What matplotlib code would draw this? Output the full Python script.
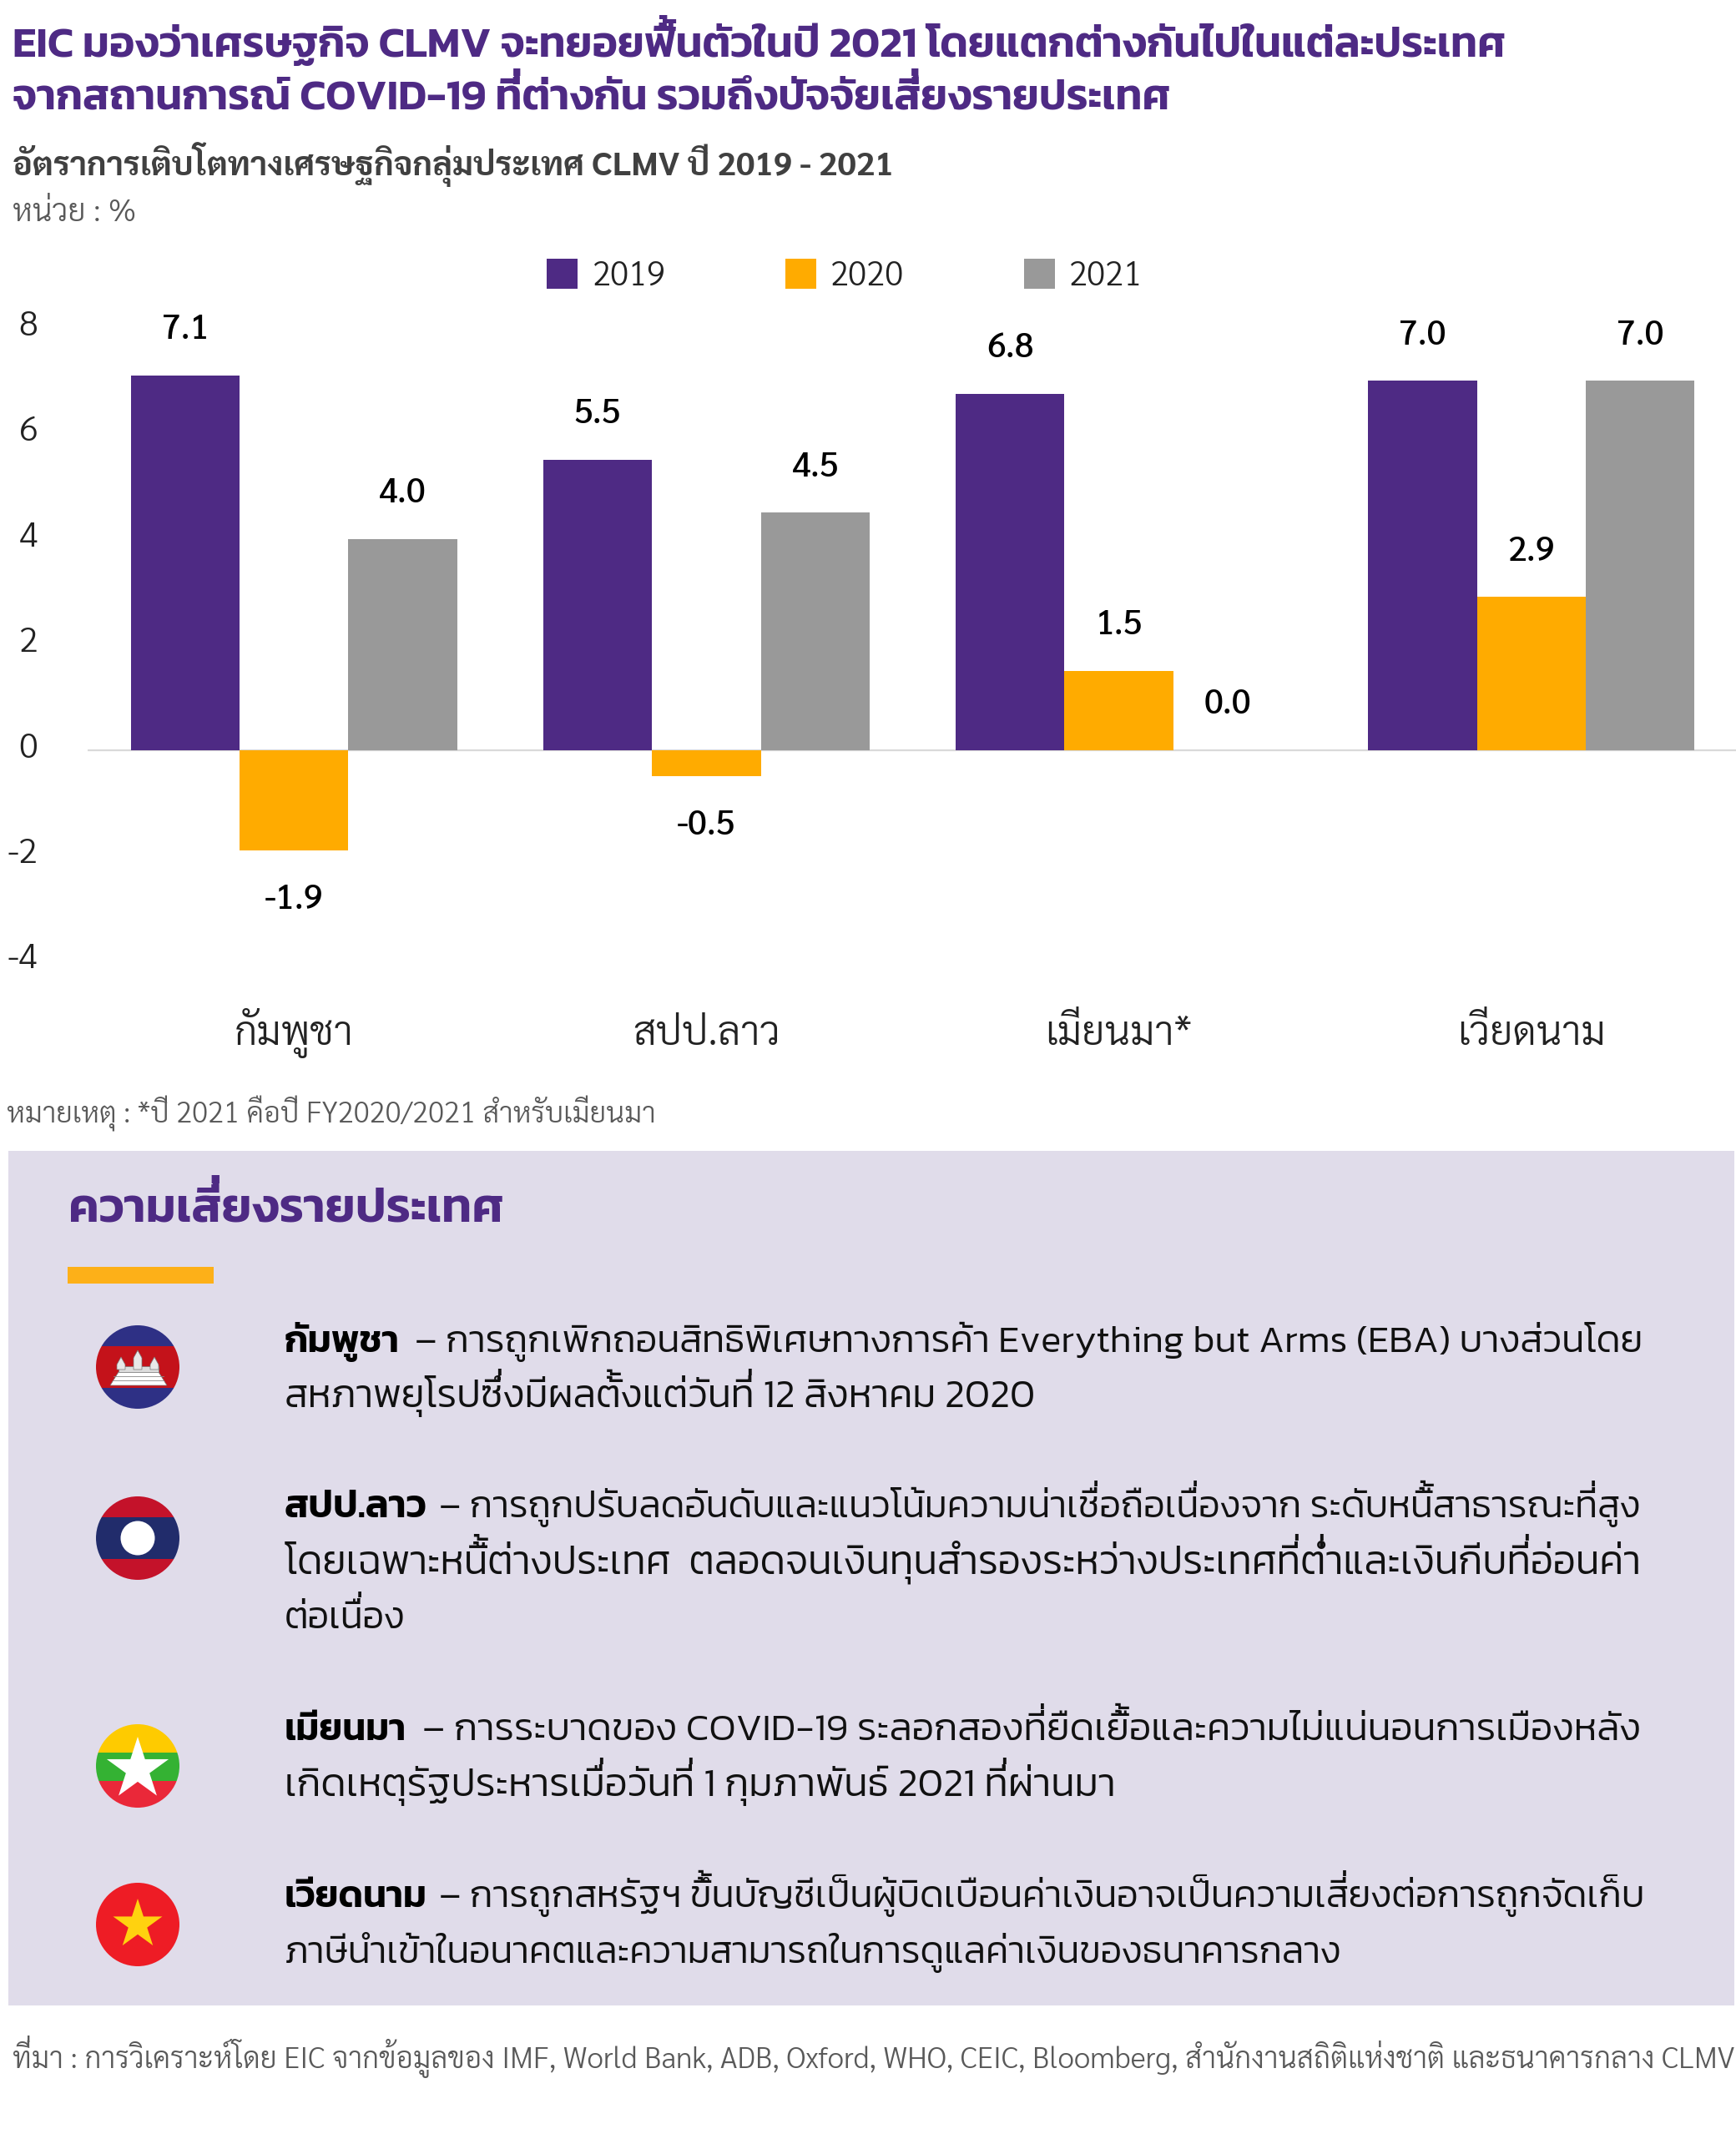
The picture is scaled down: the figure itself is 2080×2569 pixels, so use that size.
import re
import matplotlib
matplotlib.use('Agg')
import matplotlib.pyplot as plt
from matplotlib.patches import Rectangle, Circle, Polygon, PathPatch
from matplotlib.path import Path
from matplotlib.transforms import ScaledTranslation, Affine2D

# ---------- data ----------
categories = ['กัมพูชา', 'สปป.ลาว', 'เมียนมา*', 'เวียดนาม']
years = ['2019', '2020', '2021']
growth_2019 = [7.1, 5.5, 6.75, 7.0]
growth_2020 = [-1.9, -0.5, 1.5, 2.9]
growth_2021 = [4.0, 4.5, 0.0, 7.0]
y_ticks = [-4, -2, 0, 2, 4, 6, 8]

title_lines = ['EIC มองว่าเศรษฐกิจ CLMV จะทยอยฟื้นตัวในปี 2021 โดยแตกต่างกันไปในแต่ละประเทศ',
               'จากสถานการณ์ COVID-19 ที่ต่างกัน รวมถึงปัจจัยเสี่ยงรายประเทศ']
subtitle = 'อัตราการเติบโตทางเศรษฐกิจกลุ่มประเทศ CLMV ปี 2019 - 2021'
unit = 'หน่วย : %'
footnote = 'หมายเหตุ : *ปี 2021 คือปี FY2020/2021 สำหรับเมียนมา'
panel_title = 'ความเสี่ยงรายประเทศ'
source = 'ที่มา : การวิเคราะห์โดย EIC จากข้อมูลของ IMF, World Bank, ADB, Oxford, WHO, CEIC, Bloomberg, สำนักงานสถิติแห่งชาติ และธนาคารกลาง CLMV'
risk_lines = [
    ('กัมพูชา', '– การถูกเพิกถอนสิทธิพิเศษทางการค้า Everything but Arms (EBA) บางส่วนโดย'),
    (None, 'สหภาพยุโรปซึ่งมีผลตั้งแต่วันที่ 12 สิงหาคม 2020'),
    ('สปป.ลาว', '– การถูกปรับลดอันดับและแนวโน้มความน่าเชื่อถือเนื่องจาก ระดับหนี้สาธารณะที่สูง'),
    (None, 'โดยเฉพาะหนี้ต่างประเทศ  ตลอดจนเงินทุนสำรองระหว่างประเทศที่ต่ำและเงินกีบที่อ่อนค่า'),
    (None, 'ต่อเนื่อง'),
    ('เมียนมา', '– การระบาดของ COVID-19 ระลอกสองที่ยืดเยื้อและความไม่แน่นอนการเมืองหลัง'),
    (None, 'เกิดเหตุรัฐประหารเมื่อวันที่ 1 กุมภาพันธ์ 2021 ที่ผ่านมา'),
    ('เวียดนาม', '– การถูกสหรัฐฯ ขึ้นบัญชีเป็นผู้บิดเบือนค่าเงินอาจเป็นความเสี่ยงต่อการถูกจัดเก็บ'),
    (None, 'ภาษีนำเข้าในอนาคตและความสามารถในการดูแลค่าเงินของธนาคารกลาง'),
]
# ---------- style ----------
W, H = 2080, 2569
PURPLE, ORANGE, GREY = '#4E2A84', '#FFAB00', '#999999'
PANEL = '#E0DCEA'
LOOPLESS = 'Kanit'
LOOPED = 'Sarabun'
INK = '#222222'

fig = plt.figure(figsize=(W / 100, H / 100), dpi=100, facecolor='white')
bg = fig.add_axes([0, 0, 1, 1], zorder=0)
bg.set_xlim(0, W); bg.set_ylim(H, 0); bg.axis('off')
renderer = fig.canvas.get_renderer()

STACKED = re.compile(r'(?<=[ิีึืั็])[่้๊๋์]|[่้๊๋](?=ำ)')

def width_of(s, **kw):
    t = bg.text(0, 0, s, **kw)
    w = t.get_window_extent(renderer).width
    t.remove()
    return w

def fit(x0, x1, y, s, family, weight, color):
    """Draw s between x0 and x1; tone marks on top of an upper vowel are raised
    by a second text because matplotlib does not apply the font's mark positioning."""
    size = 30.0
    kw = dict(family=family, weight=weight, color=color, va='baseline', ha='left')
    for _ in range(4):
        size *= (x1 - x0) / width_of(s, fontsize=size, **kw)
    bg.text(x0, y, s, fontsize=size, **kw)
    em = size * 100 / 72
    base = width_of('กก', fontsize=size, **kw)
    for m in STACKED.finditer(s):
        pen = width_of('ก' + s[:m.start()] + 'ก', fontsize=size, **kw) - base
        bg.text(x0 + pen, y - 0.17 * em, m.group() + ' ', fontsize=size, **kw)

# ---------- chart ----------
def fx(px): return px / W
def fy(px): return 1 - px / H
left, right, top, bottom = 105, 2082, 393, 1151.5
ax = fig.add_axes([fx(left), fy(bottom), fx(right) - fx(left), (bottom - top) / H], zorder=1)
ax.patch.set_alpha(0)
ax.set_xlim(-0.5, 3.5); ax.set_ylim(-4, 8)
bw = 0.2637
series = [growth_2019, growth_2020, growth_2021]
colors = [PURPLE, ORANGE, GREY]
handles = []
for i, (vals, c) in enumerate(zip(series, colors)):
    xs = [k + (i - 1) * bw for k in range(len(categories))]
    b = ax.bar(xs, vals, width=bw, color=c, linewidth=0, label=years[i], zorder=2)
    handles.append(b)
    for x, v in zip(xs, vals):
        off = 39 if v >= 0 else -43
        ax.annotate(f'{v:.1f}', (x, v), xytext=(0, off), textcoords='offset points', ha='center',
                    va='center', family=LOOPED, weight=500, fontsize=29.5, color='black', zorder=3)
ax.axhline(0, color='#D9D9D9', lw=1.6, zorder=1)
for s in ax.spines.values():
    s.set_visible(False)
ax.set_yticks(y_ticks)
ax.set_yticklabels([str(v) for v in y_ticks], family=LOOPED, weight=300, fontsize=30, color=INK)
ax.tick_params(axis='y', length=0, pad=43)
shift = ScaledTranslation(0, 6.5 / 100, fig.dpi_scale_trans)
for lab in ax.get_yticklabels():
    lab.set_transform(lab.get_transform() + shift)
ax.set_xticks(range(len(categories)))
ax.set_xticklabels(categories, family=LOOPED, weight=300, fontsize=34.8, color=INK, va='baseline')
ax.tick_params(axis='x', length=0, pad=72.5)
leg = fig.legend(handles=handles, labels=years, ncol=3, frameon=False, loc='center left',
                 bbox_to_anchor=(fx(655), fy(331)), borderpad=0, borderaxespad=0,
                 handlelength=0.93, handleheight=1.0, handletextpad=0.43, columnspacing=3.55,
                 prop={'family': LOOPED, 'weight': 300, 'size': 29}, labelcolor=INK)

# ---------- header, footer ----------
fit(15, 1808, 68, title_lines[0], LOOPLESS, 600, PURPLE)
fit(15, 1403, 130, title_lines[1], LOOPLESS, 600, PURPLE)
fit(15, 1071, 210, subtitle, LOOPED, 700, '#404040')
fit(15, 163, 265, unit, LOOPED, 300, '#595959')
fit(8, 784, 1345, footnote, LOOPED, 300, '#595959')
fit(15, 2077, 2478, source, LOOPED, 300, '#595959')

# ---------- panel ----------
bg.add_patch(Rectangle((10, 1379), 2068, 1024, fc=PANEL, ec='none'))
fit(82, 604, 1463, panel_title, LOOPLESS, 600, PURPLE)
bg.add_patch(Rectangle((81, 1518), 175, 20, fc='#FDB018', ec='none'))

baselines = [1620, 1686, 1818, 1885, 1951, 2085, 2152, 2285, 2352]
bold_ends = {0: 479, 2: 512, 5: 487, 7: 512}
reg_starts = {0: 497, 2: 526, 5: 506, 7: 526}
line_ends = [1971, 1242, 1967, 1967, 486, 1968, 1338, 1967, 1608]
for i, (bold, rest) in enumerate(risk_lines):
    if bold:
        fit(341, bold_ends[i], baselines[i], bold, LOOPLESS, 600, 'black')
        fit(reg_starts[i], line_ends[i], baselines[i], rest, LOOPLESS, 300, '#111111')
    else:
        fit(341, line_ends[i], baselines[i], rest, LOOPLESS, 300, '#111111')

# ---------- flags ----------
def flag(cy, bands):
    clip = Circle((165, cy), 50, transform=bg.transData)
    for y0, y1, c in bands:
        r = Rectangle((110, cy + y0), 110, y1 - y0, fc=c, ec='none', zorder=3)
        bg.add_patch(r); r.set_clip_path(clip)

def star(cx, cy, r, color):
    p = Path.unit_regular_star(5, 0.382)
    tr = Affine2D().scale(r, -r).translate(cx, cy) + bg.transData
    bg.add_patch(PathPatch(p, transform=tr, fc=color, ec='none', zorder=4))

# Cambodia
flag(1638, [(-50, -25, '#2E3085'), (-25, 25, '#C4121A'), (25, 50, '#2E3085')])
bg.add_patch(Polygon([(132, 1660), (200, 1660), (190, 1644), (142, 1644)], fc='white', ec='#777777', lw=0.5, zorder=4))
bg.add_patch(Rectangle((142, 1637), 48, 7, fc='#DDDDDD', ec='#777777', lw=0.5, zorder=4))
for tx, ty in [(145, 1626), (165, 1618), (185, 1626)]:
    bg.add_patch(Polygon([(tx - 5, 1641), (tx - 5, ty + 9), (tx, ty), (tx + 5, ty + 9), (tx + 5, 1641)],
                         fc='#E8E8E8', ec='#777777', lw=0.5, zorder=5))
for yl in (1649, 1654):
    bg.plot([136, 196], [yl, yl], color='#888888', lw=0.6, zorder=5)
# Laos
flag(1843, [(-50, -25, '#C4122A'), (-25, 25, '#212C6B'), (25, 50, '#C4122A')])
bg.add_patch(Circle((165, 1843), 20.5, fc='white', ec='none', zorder=4))
# Myanmar
flag(2116, [(-50, -16.5, '#FECB00'), (-16.5, 18, '#34B233'), (18, 50, '#EA2839')])
star(165, 2120, 39, 'white')
# Vietnam
flag(2306, [(-50, 50, '#EE1C25')])
star(165, 2306, 31, '#FFD20F')

fig.savefig('out.png', dpi=100, facecolor='white')
